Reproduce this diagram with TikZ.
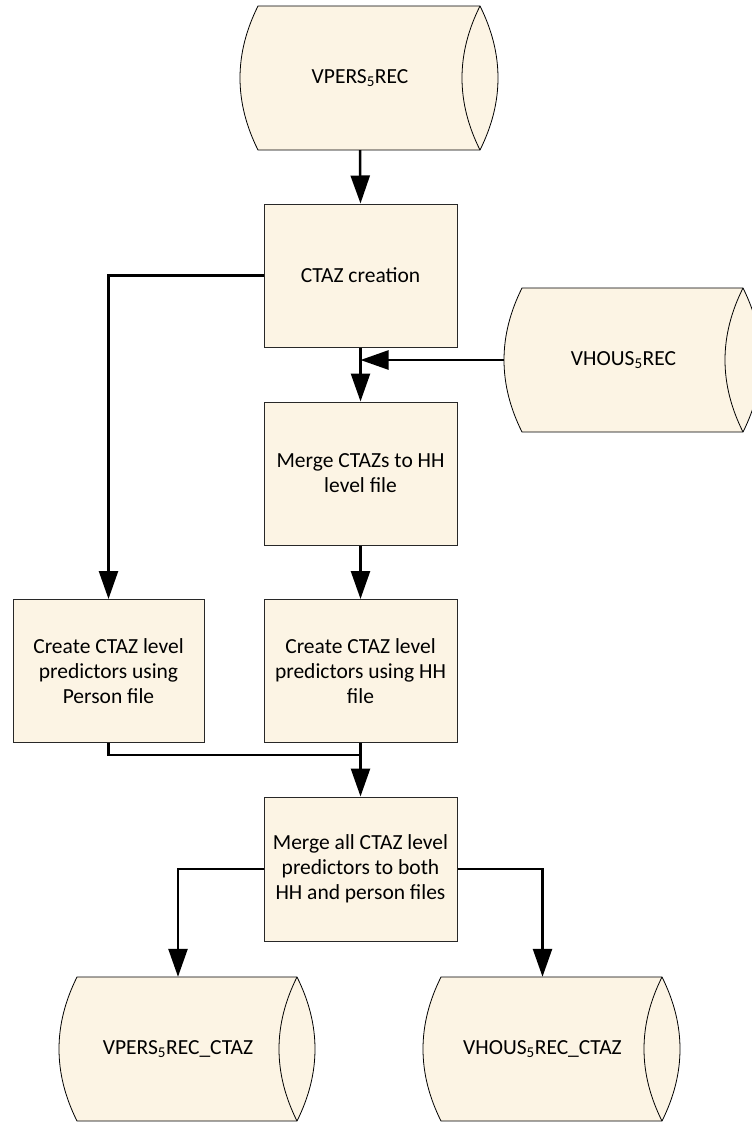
\documentclass[tikz,border=0pt]{standalone}
\usepackage{fontspec}
\setmainfont{Carlito}
\usetikzlibrary{arrows.meta,calc}
\definecolor{cream}{RGB}{252,244,228}
\definecolor{edge}{RGB}{40,40,40}
\newcommand\dbshape[4]{%
  \path[cylfill] (#1,#3) -- (#2,#3) .. controls (#2+24,#3+48) and (#2+24,#4-48) .. (#2,#4)
     -- (#1,#4) .. controls (#1-24,#4-48) and (#1-24,#3+48) .. (#1,#3) -- cycle;
  \draw[cylline] (#2,#3) .. controls (#2-24,#3+48) and (#2-24,#4-48) .. (#2,#4);}
\begin{document}
\begin{tikzpicture}[x=1pt,y=-1pt,
  font=\fontsize{21.5}{25}\selectfont,
  procbox/.style={draw=edge,line width=1pt,fill=cream,minimum width=193pt,minimum height=143pt,align=center,inner sep=0pt},
  cylfill/.style={draw=black,line width=0.8pt,fill=cream},
  cylline/.style={draw=black,line width=0.8pt},
  cyltext/.style={minimum width=220pt,minimum height=144pt,inner sep=0pt,align=center},
  conn/.style={line width=2.5pt,draw=black},
  arr/.style={conn,-{Triangle[length=28pt,width=19pt]}}]
\useasboundingbox (0,0) rectangle (752,1122);
% cylinders (drawn shapes)
\dbshape{258}{480}{6}{150}
\dbshape{522}{743}{288}{432}
\dbshape{77}{297}{977}{1121}
\dbshape{441}{662}{977}{1121}
% cylinder text nodes
\node[cyltext,minimum width=240pt] (vpers) at (360,78) {VPERS\textsubscript{5}REC};
\node[cyltext,minimum width=239pt] (vhous) at (623.5,360) {VHOUS\textsubscript{5}REC};
\node[cyltext,minimum width=238pt] (outp) at (178,1049) {VPERS\textsubscript{5}REC\_CTAZ};
\node[cyltext,minimum width=239pt] (outh) at (542.5,1049) {VHOUS\textsubscript{5}REC\_CTAZ};
% process boxes
\node[procbox] (ctaz) at (360.5,275.5) {CTAZ creation};
\node[procbox] (merge1) at (360.5,473.5) {Merge CTAZs to HH\\level file};
\node[procbox,minimum width=191pt] (predp) at (108.5,671) {Create CTAZ level\\predictors using\\Person file};
\node[procbox] (predh) at (360.5,671) {Create CTAZ level\\predictors using HH\\file};
\node[procbox,minimum height=144pt] (merge2) at (360.5,869) {Merge all CTAZ level\\predictors to both\\HH and person files};
% connectors
\draw[arr] (vpers.south) -- (ctaz.north);
\draw[arr] (ctaz.west) -| (predp.north);
\draw[arr] (ctaz.south) -- (merge1.north);
\coordinate (join1) at (ctaz.south |- vhous.west);
\draw[arr] (vhous.west) -- (join1);
\draw[arr] (merge1.south) -- (predh.north);
\coordinate (join2) at ($(predh.south)+(0,12)$);
\draw[conn] (predp.south) |- (join2);
\draw[arr] (predh.south) -- (merge2.north);
\draw[arr] (merge2.west) -| (outp.north);
\draw[arr] (merge2.east) -| (outh.north);
\end{tikzpicture}
\end{document}
